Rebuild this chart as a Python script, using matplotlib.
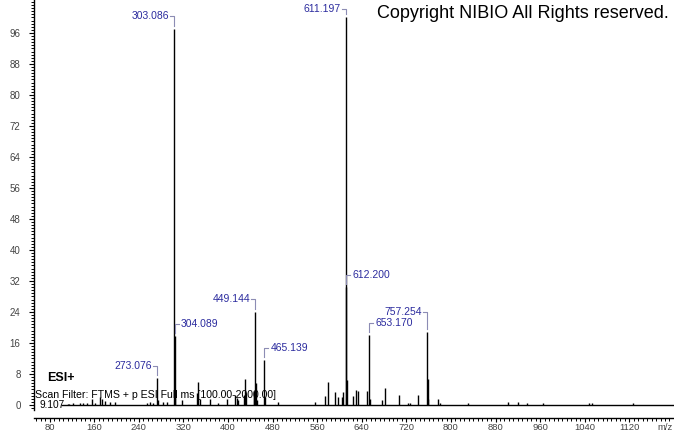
import matplotlib
matplotlib.use('Agg')
import matplotlib.pyplot as plt
from matplotlib.ticker import MultipleLocator, FixedLocator

plt.rcParams['font.family'] = ['Liberation Sans', 'DejaVu Sans']

# ---- data (m/z, relative abundance) ----
mz = [112.8, 115, 122, 134, 140, 147, 155, 161, 171, 173, 179, 188, 197,
      255, 260, 266, 273.076, 274.08, 284, 290, 303.086, 304.089, 305.09,
      317, 345, 346.5, 349, 368, 382, 397.5, 413, 416, 418, 428, 430.5, 433,
      445.7, 447, 449.144, 450.147, 451.15, 465.139, 466.14, 490, 556, 574,
      580, 592, 597.5, 604, 607, 611.197, 612.200, 613.2, 623.7, 629, 633.8,
      648.8, 653.170, 654.17, 675.7, 682.2, 706, 723.5, 727, 740.3, 757.254,
      758.257, 759.26, 777.3, 780, 830, 903, 919.8, 936, 965.7, 1048, 1053, 1127]
rel = [0.3, 0.3, 0.4, 0.5, 0.6, 0.4, 1.5, 0.6, 2.1, 1.6, 1.0, 0.8, 0.8,
       0.6, 0.8, 0.5, 7.0, 1.2, 0.8, 0.9, 97.0, 17.8, 2.5,
       1.3, 3.0, 5.9, 1.5, 1.5, 0.5, 1.5, 2.5, 1.8, 1.2, 2.5, 6.6, 3.0,
       3.5, 3.0, 24.0, 5.8, 1.2, 11.6, 2.0, 0.8, 0.8, 2.4,
       5.9, 3.4, 2.0, 2.0, 3.4, 100.0, 30.5, 6.5, 2.3, 3.9, 3.7,
       3.7, 18.1, 1.5, 1.3, 4.3, 2.6, 0.5, 0.5, 2.6, 18.8,
       6.6, 1.5, 1.5, 0.6, 0.5, 0.9, 0.7, 0.4, 0.4, 0.5, 0.4, 0.6]

label_mz = [273.076, 303.086, 304.089, 449.144, 465.139, 611.197, 612.200, 653.170, 757.254]
label_txt = ['273.076', '303.086', '304.089', '449.144', '465.139', '611.197', '612.200', '653.170', '757.254']

scan_range = [100.0, 2000.0]
x_ticks = [80, 160, 240, 320, 400, 480, 560, 640, 720, 800, 880, 960, 1040, 1120]
y_ticks = [0, 8, 16, 24, 32, 40, 48, 56, 64, 72, 80, 88, 96]

# ---- layout / style (not data) ----
label_side = {'273.076': 'left', '303.086': 'left', '304.089': 'right',
              '449.144': 'left', '465.139': 'right', '611.197': 'left',
              '612.200': 'right', '653.170': 'right', '757.254': 'left'}
label_raise = {'611.197': 8.5, '757.254': 20.0, '303.086': 13.0, '449.144': 13.0}

W, H = 674, 434
fig = plt.figure(figsize=(W / 100, H / 100), dpi=100)
ax = fig.add_axes([34 / W, 24 / H, 640 / W, 410 / H])
ax.set_xlim(51.8, 1200.2)
ax.set_ylim(-1.29, 104.5)

# baseline + sticks
ax.hlines(0, scan_range[0], 1200.2, color='black', lw=1.0)
ax.vlines(mz, 0, rel, color='black', lw=1.0)

# axes styling
for s in ['top', 'right']:
    ax.spines[s].set_visible(False)
ax.spines['bottom'].set_position(('outward', 5.5))
ax.spines['left'].set_linewidth(1.0)
ax.spines['bottom'].set_linewidth(1.0)
ax.xaxis.set_major_locator(FixedLocator(x_ticks))
ax.xaxis.set_minor_locator(MultipleLocator(8))
ax.yaxis.set_major_locator(FixedLocator(y_ticks))
ax.yaxis.set_minor_locator(MultipleLocator(0.8))
ax.tick_params(axis='x', which='major', direction='out', length=3.0, width=0.8,
               pad=1.0, labelsize=6.8, labelcolor='#444444')
ax.tick_params(axis='x', which='minor', direction='out', length=2.0, width=0.7)
ax.tick_params(axis='y', which='major', direction='out', length=3.6, width=0.8,
               pad=6, labelsize=7, labelcolor='#444444')
ax.tick_params(axis='y', which='minor', direction='out', length=2.0, width=0.7)

# peak labels with brackets
inv = ax.transData.inverted()
for m, txt in zip(label_mz, label_txt):
    h = rel[mz.index(m)]
    px, py = ax.transData.transform((m, h))
    ly = py + label_raise.get(txt, 12.0)
    if label_side[txt] == 'left':
        xs = [px, px, px - 4]
        tx, ha = px - 5, 'right'
    else:
        xs = [px, px, px + 4]
        tx, ha = px + 6, 'left'
    ys = [py + 3, ly, ly]
    pts = inv.transform(list(zip(xs, ys)))
    ax.plot(pts[:, 0], pts[:, 1], color='#8c8cb4', lw=0.8, clip_on=False)
    dx, dy = inv.transform((tx, ly))
    ax.text(dx, dy, txt, ha=ha, va='center', fontsize=7.5, color='#2b2b9e',
            clip_on=False)

# annotations
fig.text(377 / W, 1 - 13 / H, 'Copyright NIBIO All Rights reserved.',
         fontsize=13, ha='left', va='center', color='black')
fig.text(47 / W, 1 - 378 / H, 'ESI+', fontsize=9, fontweight='bold',
         ha='left', va='center', color='black')
fig.text(35 / W, 1 - 395 / H, 'Scan Filter: FTMS + p ESI Full ms [100.00-2000.00]',
         fontsize=7.55, ha='left', va='center', color='black')
fig.text(39 / W, 1 - 404.5 / H, '9.107', fontsize=7.3, ha='left', va='center',
         color='black')
fig.text(665 / W, 1 - 428 / H, 'm/z', fontsize=6.8, ha='center', va='center',
         color='#444444')

fig.savefig('out.png', dpi=100)
